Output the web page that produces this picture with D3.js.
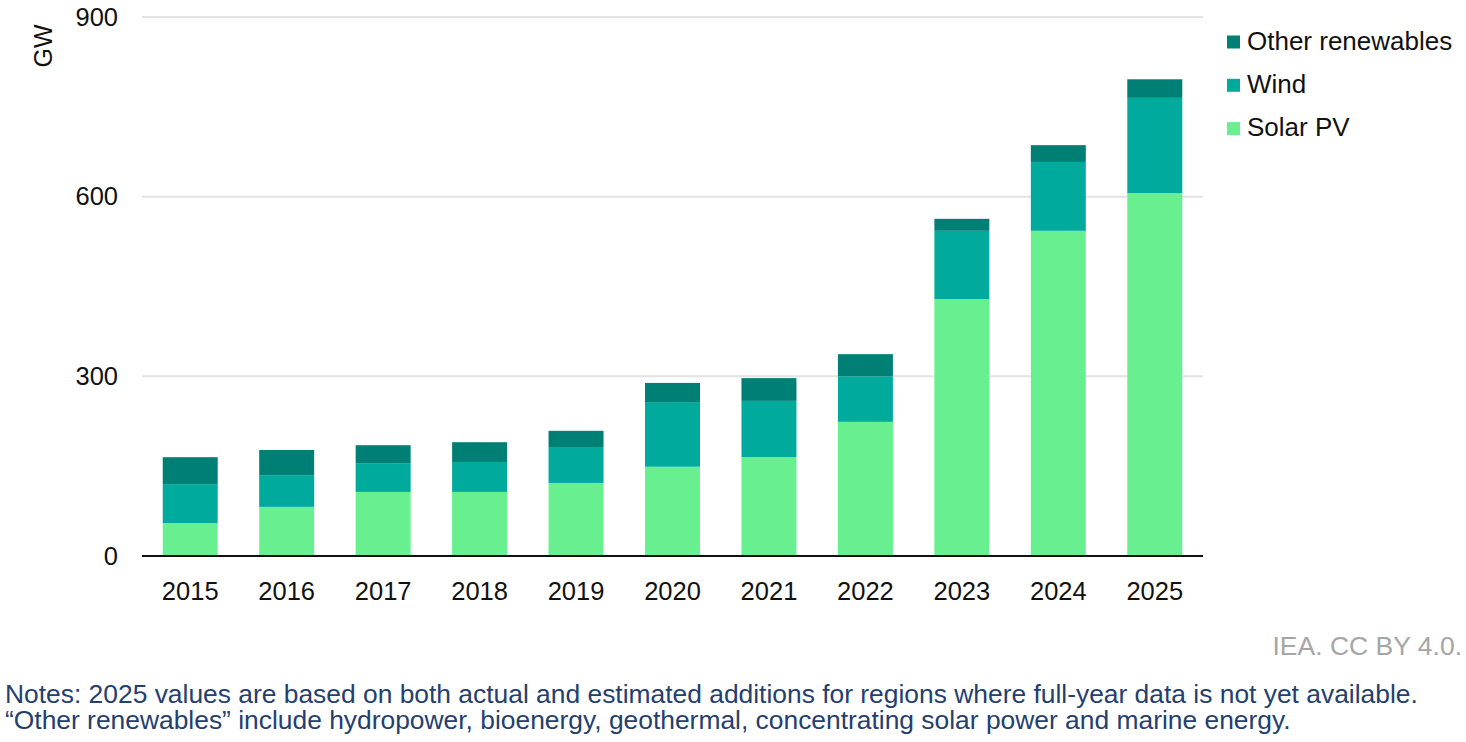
<!DOCTYPE html>
<html>
  <head>
    <title>Renewable capacity additions</title>
    <script src="https://d3js.org/d3.v7.min.js"></script>
    <style>
      body { margin: 0; background: #fff; overflow: hidden; }
      svg { display: block; font-family: "Liberation Sans", Arial, sans-serif; }
      .grid line { stroke: #e3e3e3; stroke-width: 2px; }
      .axis text { font-size: 25.5px; fill: #111; }
      .axis .domain { display: none; }
      .axis .tick line { display: none; }
      .legend text { font-size: 26px; fill: #111; }
      .credit { font-size: 26.5px; fill: #a6a6a6; }
      .note { font-size: 26.4px; fill: #24406f; }
    </style>
  </head>
  <body>
    <svg width="1466" height="742"></svg>
    <script>
      const years = ["2015", "2016", "2017", "2018", "2019", "2020", "2021", "2022", "2023", "2024", "2025"];
      const solarPV = [55, 82, 107, 107, 122, 149, 165, 224, 429, 543, 606];
      const wind = [65, 53, 48, 50, 60, 108, 94, 76, 114, 115, 159];
      const otherRenewables = [45, 42, 30, 33, 27, 32, 38, 37, 20, 28, 31];
      const yTicks = [0, 300, 600, 900];

      const seriesKeys = ["solar", "wind", "other"];
      const seriesNames = {solar: "Solar PV", wind: "Wind", other: "Other renewables"};
      const colors = {solar: "#68f090", wind: "#00ab9e", other: "#007f74"};

      const rows = years.map((y, i) => ({
        year: y,
        solar: solarPV[i],
        wind: wind[i],
        other: otherRenewables[i]
      }));

      const svg = d3.select("svg");
      const margin = {top: 17, right: 263, bottom: 186, left: 142};
      const width = +svg.attr("width");
      const height = +svg.attr("height");
      const innerWidth = width - margin.left - margin.right;
      const innerHeight = height - margin.top - margin.bottom;

      const g = svg.append("g")
        .attr("transform", `translate(${margin.left}, ${margin.top})`);

      const xScale = d3.scaleBand()
        .domain(years)
        .range([0, innerWidth])
        .paddingInner(0.43)
        .paddingOuter(0.215);

      const yScale = d3.scaleLinear()
        .domain([0, 900])
        .range([innerHeight, 0]);

      // gridlines
      g.append("g")
        .attr("class", "grid")
        .selectAll("line")
        .data(yTicks.filter(d => d > 0))
        .join("line")
          .attr("x1", 0)
          .attr("x2", innerWidth)
          .attr("y1", d => yScale(d))
          .attr("y2", d => yScale(d));

      // y axis
      g.append("g")
        .attr("class", "axis axis--y")
        .call(d3.axisLeft(yScale).tickValues(yTicks).tickSize(0).tickPadding(24));

      g.append("text")
        .attr("transform", "rotate(-90)")
        .attr("x", -29)
        .attr("y", -90)
        .attr("text-anchor", "middle")
        .style("font-size", "25px")
        .style("fill", "#111")
        .text("GW");

      // stacked bars
      const stacked = d3.stack().keys(seriesKeys)(rows);

      g.append("g")
        .selectAll("g")
        .data(stacked)
        .join("g")
          .attr("fill", d => colors[d.key])
        .selectAll("rect")
        .data(d => d)
        .join("rect")
          .attr("x", d => xScale(d.data.year))
          .attr("width", xScale.bandwidth())
          .attr("y", d => yScale(d[1]))
          .attr("height", d => yScale(d[0]) - yScale(d[1]));

      // x axis
      g.append("g")
        .attr("class", "axis axis--x")
        .attr("transform", `translate(0, ${innerHeight})`)
        .call(d3.axisBottom(xScale).tickSize(0).tickPadding(26));

      g.append("line")
        .attr("x1", 0)
        .attr("x2", innerWidth)
        .attr("y1", innerHeight)
        .attr("y2", innerHeight)
        .attr("stroke", "#111")
        .attr("stroke-width", 2);

      // legend
      const legend = svg.append("g")
        .attr("class", "legend")
        .attr("transform", "translate(1227, 42)");

      const legendItems = legend.selectAll("g")
        .data(["other", "wind", "solar"])
        .join("g")
          .attr("transform", (d, i) => `translate(0, ${i * 43.3})`);

      legendItems.append("rect")
        .attr("x", 0)
        .attr("y", -6.5)
        .attr("width", 13)
        .attr("height", 13)
        .attr("fill", d => colors[d]);

      legendItems.append("text")
        .attr("x", 20)
        .attr("y", 7.5)
        .text(d => seriesNames[d]);

      // footer
      svg.append("text")
        .attr("class", "credit")
        .attr("x", 1462)
        .attr("y", 655)
        .attr("text-anchor", "end")
        .text("IEA. CC BY 4.0.");

      svg.append("text")
        .attr("class", "note")
        .attr("x", 5)
        .attr("y", 703)
        .text("Notes: 2025 values are based on both actual and estimated additions for regions where full-year data is not yet available.");

      svg.append("text")
        .attr("class", "note")
        .attr("x", 5)
        .attr("y", 729)
        .text("\u201cOther renewables\u201d include hydropower, bioenergy, geothermal, concentrating solar power and marine energy.");
    </script>
  </body>
</html>
